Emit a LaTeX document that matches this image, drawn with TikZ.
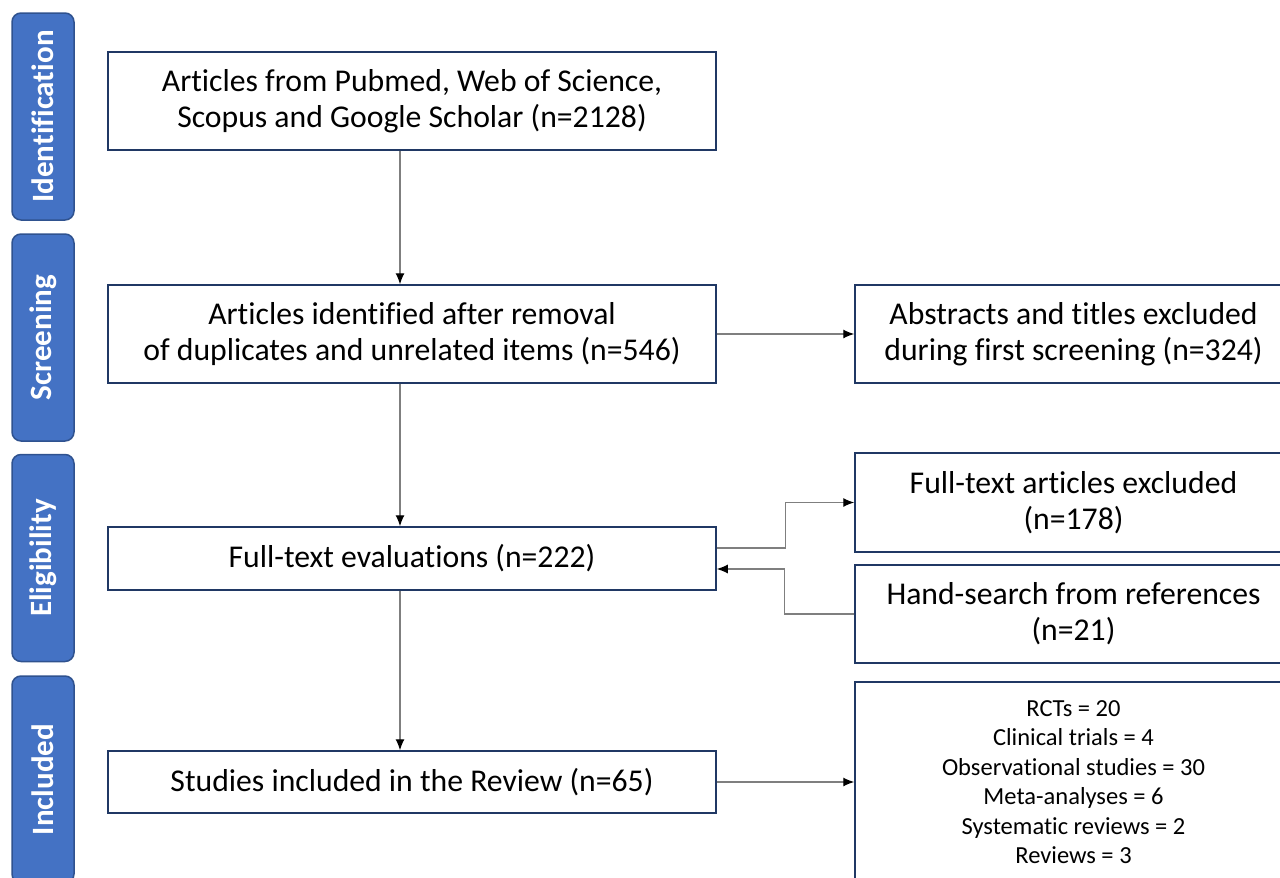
\documentclass[tikz,border=0pt]{standalone}
\usepackage{fontspec}
\setmainfont{Carlito}[Ligatures={NoCommon,NoContextual}]
\usepackage{tikz}
\usetikzlibrary{calc,positioning,arrows.meta}
\definecolor{navy}{HTML}{203864}
\definecolor{stagefill}{HTML}{4472C4}
\definecolor{stageline}{HTML}{2F528F}
\definecolor{linegray}{HTML}{7F7F7F}
\tikzset{
	x=1pt, y=-1pt,
	flowbox/.style={draw=navy, line width=1.5pt, fill=white, inner sep=0pt,
		minimum width=608pt, align=center, font=\fontsize{31.7}{36}\selectfont},
	sidebox/.style={flowbox, minimum width=437pt},
	stagebox/.style={draw=stageline, line width=1.5pt, fill=stagefill, rounded corners=9pt,
		rotate=90, inner sep=0pt, minimum width=207pt, minimum height=62pt,
		text=white, font=\fontsize{31}{36}\selectfont\bfseries},
	flow/.style={draw=linegray, line width=1.2pt, -{Latex[color=black,length=11pt,width=9pt]}},
}

\begin{document}
\begin{tikzpicture}
	\useasboundingbox (0,0) rectangle (1280,878);
	% stages
	\node[stagebox] (ident) at (43,116.5) {Identification};
	\node[stagebox] (screen) at (43,337.5) {Screening};
	\node[stagebox] (elig) at (43,558) {Eligibility};
	\node[stagebox] (incl) at (43,779.5) {Included};

	% main column
	\node[flowbox, minimum height=98pt] (found) at (412,101) {Articles from Pubmed, Web of Science,\\Scopus and Google Scholar (n=2128)};
	\node[flowbox, minimum height=98pt] (dedup) at (412,334) {Articles identified after removal\\of duplicates and unrelated items (n=546)};
	\node[flowbox, minimum height=63pt] (fulltext) at (412,558.5) {Full-text evaluations (n=222)};
	\node[flowbox, minimum height=62pt] (review) at (412,782) {Studies included in the Review (n=65)};

	% right column
	\node[sidebox, minimum height=98pt] (abstr) at (1073.5,334) {Abstracts and titles excluded\\during first screening (n=324)};
	\node[sidebox, minimum height=99pt] (excl) at (1073.5,502.5) {Full-text articles excluded\\(n=178)};
	\node[sidebox, minimum height=98pt] (hand) at (1073.5,614) {Hand-search from references\\(n=21)};
	\node[sidebox, minimum height=200pt, font=\fontsize{24.5}{29.5}\selectfont] (types) at (1073.5,782)
		{RCTs = 20\\Clinical trials = 4\\Observational studies = 30\\Meta-analyses = 6\\Systematic reviews = 2\\Reviews = 3};

	\coordinate (spine) at (400,0);
	\draw[flow] (spine |- found.south) -- (spine |- dedup.north);
	\draw[flow] (spine |- dedup.south) -- (spine |- fulltext.north);
	\draw[flow] (spine |- fulltext.south) -- (spine |- review.north);
	\draw[flow] (dedup.east) -- (abstr.west);
	\draw[flow] ([yshift=10.5pt]fulltext.east) -- ++(69,0) |- (excl.west);
	\draw[flow] (hand.west) -- ++(-70,0) |- ([yshift=-10.5pt]fulltext.east);
	\draw[flow] (review.east) -- (types.west);
\end{tikzpicture}
\end{document}
